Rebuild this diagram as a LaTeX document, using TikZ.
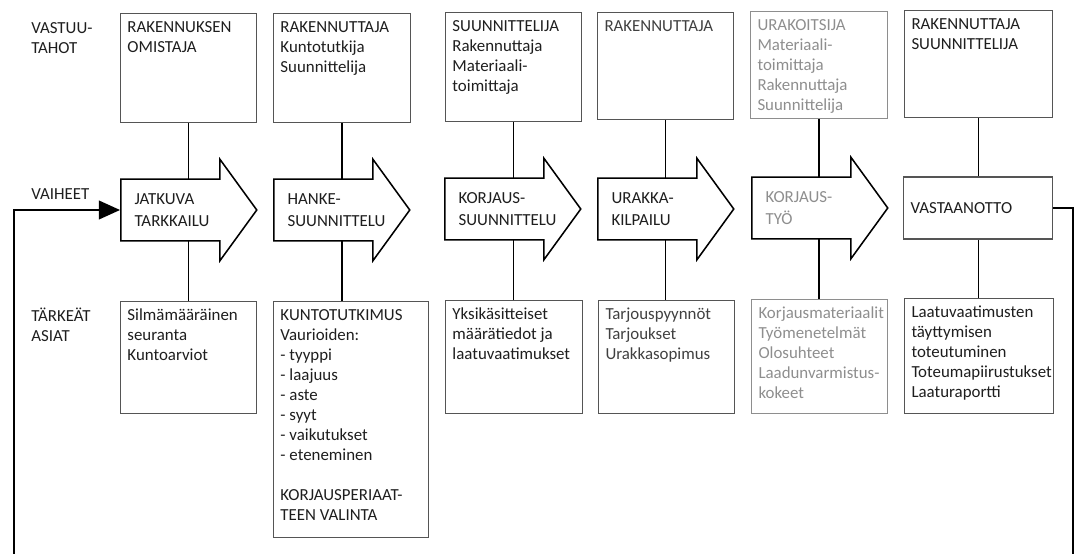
\documentclass[tikz,border=0pt]{standalone}
\usepackage{fontspec}
\setmainfont{Carlito}
\usetikzlibrary{arrows.meta,shapes.arrows,backgrounds}

\newlength{\pikseli}
\setlength{\pikseli}{0.025cm}
% laatikon sisalto: leveys, korkeus, teksti
\newcommand{\ruutu}[3]{\parbox[t][\dimexpr #2\pikseli-11\pikseli\relax][t]{\dimexpr #1\pikseli-14\pikseli\relax}{\raggedright\hyphenpenalty=10000\exhyphenpenalty=10000\strut #3}}
% vaiheen teksti
\newcommand{\vaihe}[2]{\parbox{\dimexpr #1\pikseli-14\pikseli\relax}{\raggedright\hyphenpenalty=10000 #2}}

\definecolor{reuna}{HTML}{555555}
\definecolor{vaalea}{HTML}{8E8E8E}
\definecolor{teksti}{HTML}{1E1E1E}

\begin{document}
\begin{tikzpicture}
                    [x=0.025cm, y=-0.025cm, font=\fontsize{12}{14.2}\selectfont, text=teksti]
                    \tikzset{ruutu/.style = {draw=reuna, line width=0.7pt, anchor=north west, inner xsep=7\pikseli, inner ysep=5.5\pikseli},
                             otsikko/.style = {anchor=north west, inner sep=0pt},
                             nuoli/.style = {single arrow, draw=black, fill=white, line width=1.1pt, anchor=tail,
                                             single arrow tip angle=108, single arrow head extend=20\pikseli,
                                             minimum height=136\pikseli,
                                             inner xsep=5\pikseli, inner ysep=0pt, text height=24.35pt, text depth=18.35pt,
                                             font=\fontsize{12}{15.6}\selectfont},
                             yhteys/.style = {line width=0.85pt},
                             paluu/.style = {line width=1.2pt, -{Triangle[length=0.53cm, width=0.47cm]}}}
                    \useasboundingbox (0,0) rectangle (1078,553);
                    \clip (0,0) rectangle (1078,553);

                    % rivien otsikot
                    \node[otsikko] (lvastuu)  at (31,19)  {\parbox[t]{2.4cm}{\strut VASTUU-\\TAHOT}};
                    \node[otsikko] (lvaiheet) at (31,185) {\parbox[t]{2.4cm}{\strut VAIHEET}};
                    \node[otsikko] (ltarkeat) at (31,307) {\parbox[t]{2.4cm}{\strut TÄRKEÄT\\ASIAT}};

                    % vastuutahot
                    \node[ruutu] (vt1) at (120,13) {\ruutu{136}{109}{RAKENNUKSEN\\OMISTAJA}};
                    \node[ruutu] (vt2) at (273,13) {\ruutu{137}{109}{RAKENNUTTAJA\\Kuntotutkija\\Suunnittelija}};
                    \node[ruutu] (vt3) at (445,12) {\ruutu{136}{109}{SUUNNITTELIJA\\Rakennuttaja\\Materiaali-\\toimittaja}};
                    \node[ruutu, text=teksti!85] (vt4) at (597,12) {\ruutu{136}{107}{RAKENNUTTAJA}};
                    \node[ruutu, draw=vaalea, text=vaalea] (vt5) at (750,11) {\ruutu{137}{107}{URAKOITSIJA\\Materiaali-\\toimittaja\\Rakennuttaja\\Suunnittelija}};
                    \node[ruutu] (vt6) at (904,10) {\ruutu{148}{107}{RAKENNUTTAJA\\SUUNNITTELIJA}};

                    % vaiheet
                    \node[nuoli] (vh1) at (120,210) {\vaihe{100}{JATKUVA\\TARKKAILU}};
                    \node[nuoli] (vh2) at (273,210) {\vaihe{100}{HANKE-\\SUUNNITTELU}};
                    \node[nuoli] (vh3) at (444,209) {\vaihe{100}{KORJAUS-\\SUUNNITTELU}};
                    \node[nuoli] (vh4) at (597,209) {\vaihe{100}{URAKKA-\\KILPAILU}};
                    \node[nuoli, text=vaalea] (vh5) at (751,208) {\vaihe{100}{KORJAUS-\\TYÖ}};
                    \node[draw=reuna, line width=0.8pt, fill=white, anchor=west, inner xsep=7\pikseli, inner ysep=0pt,
                          text height=25.05pt, text depth=19.05pt] (vh6) at (903,208) {\vaihe{149}{VASTAANOTTO}};

                    % tärkeät asiat
                    \node[ruutu] (ta1) at (120,301) {\ruutu{136}{112}{Silmämääräinen\\seuranta\\Kuntoarviot}};
                    \node[ruutu] (ta2) at (273,301) {\ruutu{155}{236}{KUNTOTUTKIMUS\\Vaurioiden:\\- tyyppi\\- laajuus\\- aste\\- syyt\\- vaikutukset\\- eteneminen\\[14.2pt]KORJAUSPERIAAT-\\TEEN VALINTA}};
                    \node[ruutu] (ta3) at (445,300) {\ruutu{137}{113}{Yksikäsitteiset\\määrätiedot ja\\laatuvaatimukset}};
                    \node[ruutu, text=teksti!85] (ta4) at (598,300) {\ruutu{136}{113}{Tarjouspyynnöt\\Tarjoukset\\Urakkasopimus}};
                    \node[ruutu, draw=vaalea, text=vaalea] (ta5) at (751,299) {\ruutu{136}{114}{Korjausmateriaalit\\Työmenetelmät\\Olosuhteet\\Laadunvarmistus-\\kokeet}};
                    \node[ruutu] (ta6) at (904,298) {\ruutu{149}{115}{Laatuvaatimusten\\täyttymisen\\toteutuminen\\Toteumapiirustukset\\Laaturaportti}};

                    \begin{scope}[on background layer]
                        \foreach \n in {1,...,6}
                            \draw[yhteys] (vt\n.south) -- (vt\n.south |- ta\n.north);
                    \end{scope}

                    % paluu alkuun
                    \coordinate (paluuoikea) at (1073,590);
                    \coordinate (paluuvasen) at (14,590);
                    \draw[paluu] (vh6.east) -| (paluuoikea) -- (paluuvasen) |- (vh1.tail);
                \end{tikzpicture}
\end{document}
